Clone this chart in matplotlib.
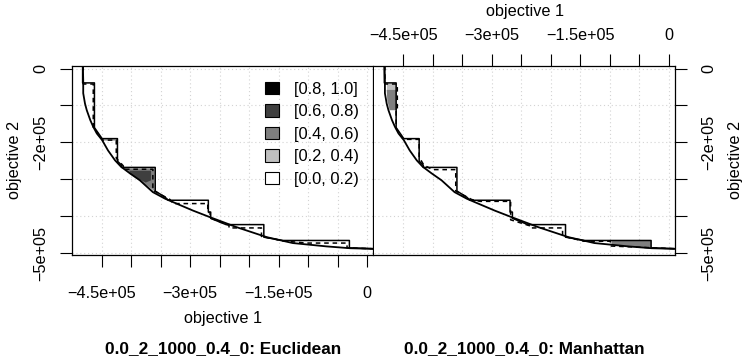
import matplotlib.pyplot as plt
from matplotlib.patches import Patch

plt.rcParams['font.family'] = ['Liberation Sans', 'DejaVu Sans']
plt.rcParams['font.size'] = 11.7
plt.rcParams['axes.unicode_minus'] = True

S = 1e5  # all values below are in units of 1e5

# best attainment surface (lower curve), same in both panels
best_x = [-4.82, -4.81, -4.81, -4.78, -4.75, -4.69, -4.64, -4.58, -4.49, -4.39, -4.27,
          -4.17, -4.02, -3.85, -3.63, -3.42, -3.23, -2.95, -2.66, -2.21, -1.70, -1.26,
          -0.69, -0.29, 0.21]
best_y = [0.30, -0.31, -0.67, -0.95, -1.13, -1.40, -1.58, -1.76, -1.94, -2.22, -2.49,
          -2.66, -2.84, -3.03, -3.35, -3.53, -3.66, -3.85, -4.03, -4.30, -4.57, -4.73,
          -4.82, -4.87, -4.89]

# worst attainment surface (upper staircase), same in both panels
worst_x = [-4.82, -4.82, -4.62, -4.62, -4.52, -4.49, -4.23, -4.23, -4.16, -4.16, -3.59,
           -3.59, -3.42, -3.37, -2.69, -2.69, -2.65, -2.65, -2.39, -1.75, -1.75, -1.43,
           -0.30, -0.30, 0.21]
worst_y = [0.30, -0.39, -0.39, -1.60, -1.83, -1.90, -1.90, -2.51, -2.62, -2.68, -2.68,
           -3.32, -3.49, -3.57, -3.57, -3.89, -3.89, -4.06, -4.23, -4.23, -4.57, -4.66,
           -4.66, -4.86, -4.89]

# median attainment surfaces (dashed)
med_left_x = [-4.81, -4.81, -4.64, -4.64, -4.48, -4.25, -4.25, -4.13, -4.13, -3.63, -3.63,
              -3.34, -3.29, -2.70, -2.70, -2.66, -2.66, -2.34, -2.34, -1.79, -1.79, -1.43,
              -1.03, -0.34, -0.34, 0.21]
med_left_y = [0.30, -0.42, -0.42, -1.59, -1.94, -1.94, -2.43, -2.64, -2.73, -2.73, -3.30,
              -3.55, -3.66, -3.66, -3.90, -3.90, -4.05, -4.25, -4.32, -4.32, -4.55, -4.67,
              -4.73, -4.73, -4.86, -4.89]
med_right_x = [-4.81, -4.81, -4.60, -4.60, -4.62, -4.62, -4.51, -4.43, -4.23, -4.23, -4.15,
               -4.00, -3.61, -3.61, -3.34, -3.20, -2.68, -2.68, -2.34, -2.34, -1.80, -1.80,
               -1.44, -0.99, -0.99, 0.21]
med_right_y = [0.30, -0.42, -0.42, -1.13, -1.13, -1.62, -1.89, -1.92, -1.92, -2.40, -2.62,
               -2.74, -2.74, -3.32, -3.55, -3.60, -3.60, -4.10, -4.27, -4.32, -4.32, -4.54,
               -4.68, -4.68, -4.81, -4.89]

levels = ['[0.8, 1.0]', '[0.6, 0.8)', '[0.4, 0.6)', '[0.2, 0.4)', '[0.0, 0.2)']
level_colors = ['#000000', '#3F3F3F', '#7F7F7F', '#BFBFBF', '#FFFFFF']

# difference regions: (level index, xs, ys)
left_regions = [
    (3, [-4.48, -4.23, -4.23, -4.48], [-1.90, -1.90, -1.97, -1.97]),
    (3, [-4.16, -3.59, -3.59, -3.63, -3.85, -4.02], [-2.69, -2.69, -3.36, -3.35, -3.03, -2.84]),
    (2, [-4.10, -3.61, -3.61, -3.85, -4.02], [-2.72, -2.72, -3.30, -3.04, -2.86]),
    (1, [-4.03, -3.66, -3.66, -3.75, -3.89, -4.00], [-2.77, -2.77, -3.03, -3.09, -2.98, -2.87]),
]
right_regions = [
    (3, [-4.78, -4.61, -4.61, -4.78], [-0.42, -0.42, -0.58, -0.58]),
    (2, [-4.78, -4.61, -4.61, -4.73, -4.77], [-0.58, -0.58, -1.13, -1.13, -0.86]),
    (2, [-0.97, -0.30, -0.30, -0.63, -0.97], [-4.66, -4.66, -4.86, -4.84, -4.78]),
]

xticks = [-4.5, -4.0, -3.5, -3.0, -2.5, -2.0, -1.5, -1.0, -0.5, 0.0]
xlabels = ['\u22124.5e+05', '', '', '\u22123e+05', '', '', '\u22121.5e+05', '', '', '0']
yticks = [0.0, -1.0, -2.0, -3.0, -4.0, -5.0]
ylabels = ['0', '', '\u22122e+05', '', '', '\u22125e+05']


def draw_panel(ax, med_x, med_y, regions):
    for lvl, xs, ys in regions:
        ax.fill([v * S for v in xs], [v * S for v in ys], color=level_colors[lvl],
                lw=0, zorder=1)
    ax.plot([v * S for v in best_x], [v * S for v in best_y], color='black', lw=1.3, zorder=3)
    ax.plot([v * S for v in worst_x], [v * S for v in worst_y], color='black', lw=1.1, zorder=3)
    ax.plot([v * S for v in med_x], [v * S for v in med_y], color='black', lw=1.1,
            dashes=(3, 2.5), zorder=3)
    ax.set_xlim(-4.995 * S, 0.105 * S)
    ax.set_ylim(-5.04 * S, 0.076 * S)
    ax.set_xticks([v * S for v in xticks])
    ax.set_yticks([v * S for v in yticks])
    ax.set_xticklabels(xlabels)
    ax.set_yticklabels(ylabels)
    ax.grid(True, color='#D3D3D3', ls=(0, (1, 2.5)), lw=0.8, zorder=0)
    ax.set_axisbelow(True)
    for sp in ax.spines.values():
        sp.set_linewidth(0.9)
    ax.tick_params(direction='out', length=8.6, width=0.8)


fig = plt.figure(figsize=(7.47, 3.58), dpi=100)
ax1 = fig.add_axes([72.3 / 747, 103.5 / 358, 301 / 747, 188.8 / 358])
ax2 = fig.add_axes([374 / 747, 103.5 / 358, 301 / 747, 188.8 / 358])

draw_panel(ax1, med_left_x, med_left_y, left_regions)
draw_panel(ax2, med_right_x, med_right_y, right_regions)

ax1.tick_params(axis='x', pad=14)
ax1.tick_params(axis='y', pad=8.4, labelrotation=90)
ax1.set_xlabel('objective 1', labelpad=7)
ax1.set_ylabel('objective 2', labelpad=8.5)

ax2.xaxis.tick_top()
ax2.xaxis.set_label_position('top')
ax2.yaxis.tick_right()
ax2.yaxis.set_label_position('right')
ax2.spines['left'].set_visible(False)
ax2.tick_params(axis='x', pad=8)
ax2.tick_params(axis='y', pad=10.4, labelrotation=90)
ax2.set_xlabel('objective 1', labelpad=8.5)
ax2.set_ylabel('objective 2', labelpad=8.5, rotation=90)

for lbl in ax1.get_yticklabels():
    lbl.set_va('center')
for t in ax2.yaxis.get_major_ticks():
    t.label2.set_va('center')

handles = [Patch(facecolor=c, edgecolor='black', lw=0.8) for c in level_colors]
ax1.legend(handles, levels, loc='upper left', bbox_to_anchor=(0.64, 0.915),
           frameon=False, borderpad=0, borderaxespad=0, handlelength=0.86,
           handleheight=0.8, handletextpad=0.88, labelspacing=0.45, fontsize=11.9)

fig.text(222.8 / 747, 4.7 / 358, '0.0_2_1000_0.4_0: Euclidean', ha='center',
         va='baseline', fontsize=12.4, fontweight='bold')
fig.text(524.5 / 747, 4.7 / 358, '0.0_2_1000_0.4_0: Manhattan', ha='center',
         va='baseline', fontsize=12.4, fontweight='bold')

fig.savefig('out.png', dpi=100)
